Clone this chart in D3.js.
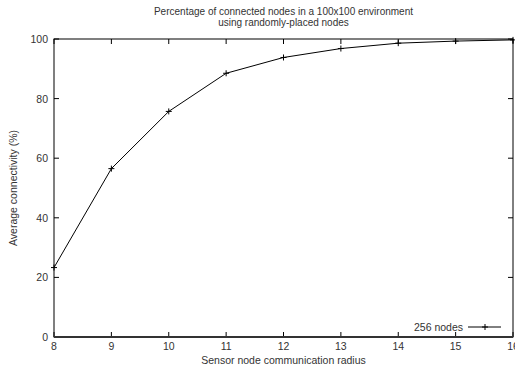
<!DOCTYPE html>
<html>
<head>
<style>
  body { margin: 0; background: #fff; }
  text { font-family: "Liberation Sans", Arial, sans-serif; fill: #333; }
</style>
</head>
<body>
<svg id="chart" width="515" height="367"></svg>

<script src="https://d3js.org/d3.v7.min.js"></script>
<script>
  // data
  var radius = [8, 9, 10, 11, 12, 13, 14, 15, 16];
  var connectivity = [23.3, 56.5, 75.7, 88.5, 93.8, 96.8, 98.6, 99.3, 99.7];
  var xTicks = [8, 9, 10, 11, 12, 13, 14, 15, 16];
  var yTicks = [0, 20, 40, 60, 80, 100];

  var margin = { top: 39, right: 2, bottom: 30, left: 54 },
    width = 515 - margin.left - margin.right,
    height = 367 - margin.top - margin.bottom;

  var svg = d3.select("#chart");
  var g = svg.append("g")
    .attr("transform", "translate(" + margin.left + "," + margin.top + ")");

  var x = d3.scaleLinear().domain([8, 16]).range([0, width]);
  var y = d3.scaleLinear().domain([0, 100]).range([height, 0]);

  // tick marks pointing inward on all four sides
  var tl = 5;
  g.selectAll(".xt").data(xTicks).enter().append("line")
    .attr("x1", function (d) { return x(d) }).attr("x2", function (d) { return x(d) })
    .attr("y1", height).attr("y2", height - tl)
    .attr("stroke", "#000");
  g.selectAll(".xt2").data(xTicks).enter().append("line")
    .attr("x1", function (d) { return x(d) }).attr("x2", function (d) { return x(d) })
    .attr("y1", 0).attr("y2", tl)
    .attr("stroke", "#000");
  g.selectAll(".yt").data(yTicks).enter().append("line")
    .attr("y1", function (d) { return y(d) }).attr("y2", function (d) { return y(d) })
    .attr("x1", 0).attr("x2", tl)
    .attr("stroke", "#000");
  g.selectAll(".yt2").data(yTicks).enter().append("line")
    .attr("y1", function (d) { return y(d) }).attr("y2", function (d) { return y(d) })
    .attr("x1", width).attr("x2", width - tl)
    .attr("stroke", "#000");

  // frame
  g.append("rect")
    .attr("x", 0).attr("y", 0).attr("width", width).attr("height", height)
    .attr("fill", "none").attr("stroke", "#000").attr("stroke-width", 1);
  g.append("line")
    .attr("x1", 0).attr("x2", width).attr("y1", height).attr("y2", height)
    .attr("stroke", "#333").attr("stroke-width", 2);

  // tick labels
  g.selectAll(".xl").data(xTicks).enter().append("text")
    .attr("x", function (d) { return x(d) }).attr("y", height + 13)
    .attr("text-anchor", "middle").attr("font-size", 10.5)
    .text(function (d) { return d });
  g.selectAll(".yl").data(yTicks).enter().append("text")
    .attr("x", -6).attr("y", function (d) { return y(d) + 4 })
    .attr("text-anchor", "end").attr("font-size", 10.5)
    .text(function (d) { return d });

  // line + markers
  var pts = radius.map(function (r, i) { return [r, connectivity[i]] });
  g.append("path")
    .datum(pts)
    .attr("fill", "none").attr("stroke", "#000").attr("stroke-width", 1)
    .attr("d", d3.line().x(function (d) { return x(d[0]) }).y(function (d) { return y(d[1]) }));

  function plus(sel, cx, cy) {
    sel.append("path")
      .attr("d", "M" + (cx - 3) + "," + cy + "h6M" + cx + "," + (cy - 3) + "v6")
      .attr("stroke", "#000").attr("stroke-width", 1);
  }
  pts.forEach(function (p) { plus(g, x(p[0]), y(p[1])) });

  // legend
  var ly = height - 10;
  g.append("text")
    .attr("x", 409).attr("y", ly + 4)
    .attr("text-anchor", "end").attr("font-size", 10.5)
    .text("256 nodes");
  g.append("line")
    .attr("x1", 414).attr("x2", 447).attr("y1", ly).attr("y2", ly)
    .attr("stroke", "#000");
  plus(g, 431, ly);

  // titles
  svg.append("text")
    .attr("x", margin.left + width / 2).attr("y", 15)
    .attr("text-anchor", "middle").attr("font-size", 10)
    .text("Percentage of connected nodes in a 100x100 environment");
  svg.append("text")
    .attr("x", margin.left + width / 2).attr("y", 26)
    .attr("text-anchor", "middle").attr("font-size", 10)
    .text("using randomly-placed nodes");
  svg.append("text")
    .attr("x", margin.left + width / 2).attr("y", 364)
    .attr("text-anchor", "middle").attr("font-size", 10.5)
    .text("Sensor node communication radius");
  svg.append("text")
    .attr("transform", "translate(17," + (margin.top + height / 2) + ") rotate(-90)")
    .attr("text-anchor", "middle").attr("font-size", 10.5)
    .text("Average connectivity (%)");
</script>
</body>
</html>
